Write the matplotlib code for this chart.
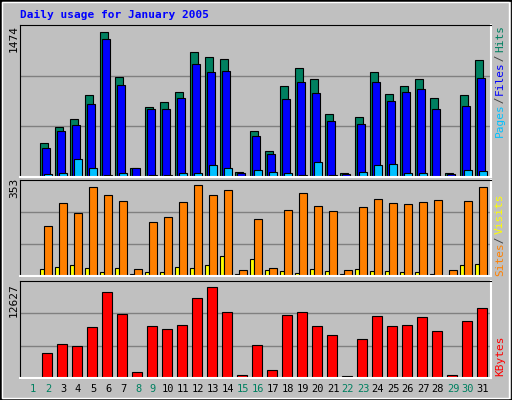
import numpy as np
import matplotlib
matplotlib.use('Agg')
import matplotlib.pyplot as plt

days = np.arange(1, 32)
weekend = [1, 2, 8, 9, 15, 16, 22, 23, 29, 30]
# values (day 1 empty)
hits = [0, 334, 490, 578, 812, 1435, 987, 91, 695, 744, 841, 1237, 1188, 1169, 52, 451, 256, 899, 1075, 968, 627, 42, 598, 1036, 821, 899, 968, 786, 42, 812, 1153]
files = [0, 286, 451, 519, 724, 1367, 909, 91, 675, 675, 783, 1120, 1042, 1052, 42, 403, 227, 773, 938, 831, 558, 32, 529, 938, 753, 841, 872, 675, 32, 705, 978]
pages = [0, 32, 42, 179, 91, 23, 42, 10, 23, 23, 42, 42, 120, 91, 10, 71, 52, 42, 23, 149, 23, 10, 52, 120, 130, 42, 42, 10, 10, 71, 62]
sites = [0, 186, 275, 238, 335, 305, 283, 26, 204, 223, 279, 343, 305, 323, 22, 212, 30, 249, 313, 264, 242, 22, 257, 290, 275, 271, 279, 286, 22, 283, 335]
visits = [0, 26, 33, 41, 30, 15, 30, 7, 15, 15, 33, 30, 41, 74, 7, 63, 22, 19, 11, 26, 19, 7, 26, 19, 19, 15, 15, 7, 4, 41, 45]
kbytes = [0, 3367, 4564, 4298, 6823, 11475, 8552, 842, 6956, 6557, 7088, 10677, 12139, 8819, 443, 4431, 1108, 8420, 8819, 6956, 5760, 310, 5184, 8287, 6956, 7088, 8154, 6292, 443, 7620, 9262]
hits_max, sites_max, kb_max = 1474, 353, 12627

BG = '#C0C0C0'
W, H = 512, 400
fig = plt.figure(figsize=(W / 100, H / 100), dpi=100, facecolor=BG)
mono = 'DejaVu Sans Mono'


def panel(y0, y1, vmax):
    ax = fig.add_axes([20 / W, 1 - y1 / H, (491 - 20) / W, (y1 - y0) / H])
    ax.set_facecolor(BG)
    ax.set_xlim(0.11, 31.51)
    ax.set_ylim(0, vmax)
    ax.set_xticks([])
    ax.set_yticks([])
    for y in (vmax / 3, vmax * 2 / 3):
        ax.axhline(y, color='#808080', lw=1, zorder=0)
    for s in ('top', 'left'):
        ax.spines[s].set_color('black')
    for s in ('bottom', 'right'):
        ax.spines[s].set_color('white')
        ax.spines[s].set_linewidth(1.5)
    return ax


def bars(ax, vals, left, width, color):
    ax.bar(days + left, vals, width=width, align='edge', color=color,
           edgecolor='black', linewidth=0.8, zorder=2)


ax1 = panel(25, 177, hits_max * 1.02)
bars(ax1, hits, -0.56, 0.51, '#008060')
bars(ax1, files, -0.40, 0.51, '#0000FF')
bars(ax1, pages, -0.27, 0.49, '#00C0FF')

ax2 = panel(180, 276, sites_max * 1.02)
bars(ax2, visits, -0.56, 0.29, '#FFFF00')
bars(ax2, sites, -0.27, 0.49, '#FF8000')

ax3 = panel(281, 378, kb_max * 1.02)
bars(ax3, kbytes, -0.44, 0.67, '#FF0000')

# title and axis labels
fig.text(20 / W, 1 - 15 / H, 'Daily usage for January 2005', color='#0000FF',
         family=mono, fontweight='bold', fontsize=8, va='center')
for y, txt in ((38, '1474'), (188, '353'), (300, '12627')):
    fig.text(14 / W, 1 - y / H, txt, rotation=90, family=mono, fontsize=8,
             ha='center', va='center')

for d in days:
    c = '#008060' if d in weekend else 'black'
    fig.text((33 + 15 * (d - 1)) / W, 1 - 389 / H, str(d), color=c,
             family=mono, fontsize=7.5, ha='center', va='center')


def side_label(parts, y_bottom):
    y = y_bottom
    for txt, col in parts:
        fig.text(500 / W, 1 - y / H, txt, rotation=90, color=col, family=mono,
                 fontsize=8, ha='center', va='bottom')
        y -= 5.3 * len(txt)


side_label([('Pages', '#00C0FF'), (' / ', '#404040'), ('Files', '#0000FF'),
            (' / ', '#404040'), ('Hits', '#008060')], 137)
side_label([('Sites', '#FF8000'), (' / ', '#404040'), ('Visits', '#FFFF00')], 276)
side_label([('KBytes', '#FF0000')], 376)

# outer frame
fig.patches.append(plt.Rectangle((0, 0), 1, 1, transform=fig.transFigure,
                                 fill=False, edgecolor='black', lw=2))
fig.patches.append(plt.Rectangle((0.004, 0.006), 0.99, 0.988, transform=fig.transFigure,
                                 fill=False, edgecolor='white', lw=1))

fig.savefig('out.png', dpi=100, facecolor=BG)
